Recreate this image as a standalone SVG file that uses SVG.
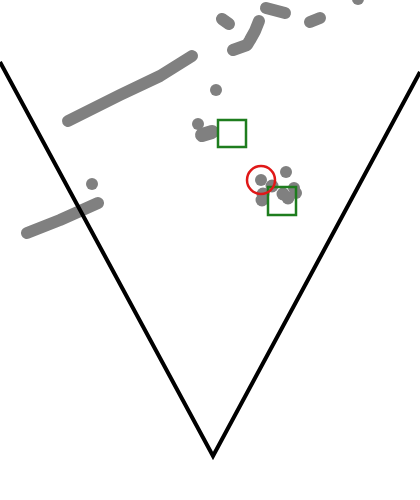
<svg xmlns="http://www.w3.org/2000/svg" width="420" height="500" viewBox="0 0 420 500">
<style>
.pt{fill:#808080}
.seg{stroke:#808080;stroke-width:12;stroke-linecap:round;stroke-linejoin:round;fill:none}
.fov{stroke:#000;stroke-width:4;fill:none}
.box{stroke:#1e7d1e;stroke-width:2.5;fill:none}
.tgt{stroke:#e01818;stroke-width:2.5;fill:none}
</style>
<rect width="420" height="500" fill="#fff"/>
<g id="points">
<path class="seg" d="M68,121 L120,95 L160,76 L192,56"/>
<path class="seg" d="M27,233 L60,220 L98,203"/>
<circle class="pt" cx="92" cy="184" r="6"/>
<path class="seg" d="M222,19 L229,24"/>
<path class="seg" d="M266,8 L285,13"/>
<path class="seg" d="M310,22 L320,18"/>
<path class="seg" d="M233,50 L247,45 L250,40 L255,31 L259,21"/>
<circle class="pt" cx="358" cy="-1" r="6"/>
<circle class="pt" cx="216" cy="90" r="6"/>
<circle class="pt" cx="198" cy="124" r="6"/>
<path class="seg" d="M202,135 L212,132" style="stroke-width:14"/>
<circle class="pt" cx="261" cy="180" r="6"/>
<circle class="pt" cx="286" cy="172" r="6"/>
<circle class="pt" cx="272" cy="186" r="6.5"/>
<circle class="pt" cx="263" cy="194" r="6.5"/>
<circle class="pt" cx="262" cy="200" r="6.5"/>
<circle class="pt" cx="283" cy="194" r="6.5"/>
<circle class="pt" cx="288" cy="198" r="6.5"/>
<circle class="pt" cx="294" cy="188" r="6"/>
<circle class="pt" cx="296" cy="193" r="6"/>
</g>
<g id="fov">
<polyline class="fov" points="0,62 213,456 420,72"/>
</g>
<g id="box1"><rect class="box" x="218" y="120" width="28" height="27"/></g>
<g id="box2"><rect class="box" x="268" y="187" width="28" height="28"/></g>
<g id="target"><circle class="tgt" cx="261" cy="180" r="14"/></g>
</svg>
